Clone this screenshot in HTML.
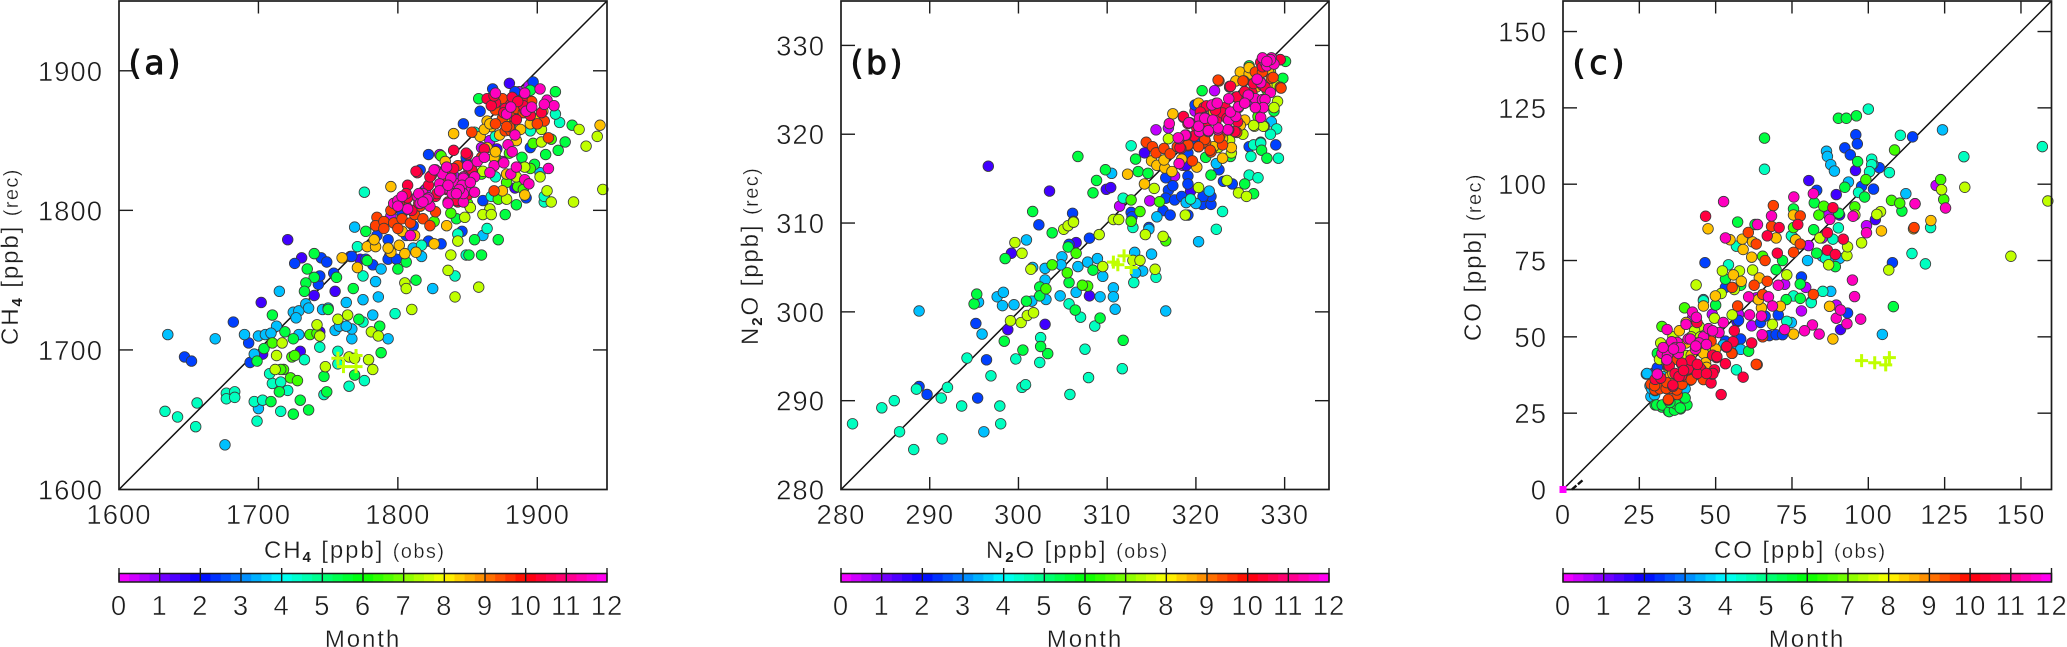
<!DOCTYPE html>
<html lang="en">
<head>
<meta charset="utf-8">
<title>Observed vs reconstructed CH4, N2O and CO</title>
<style>
html,body{margin:0;padding:0;background:#fff;}
svg{display:block;}
text{font-family:"Liberation Sans",sans-serif;fill:#1c1c1c;stroke:#fff;stroke-width:.5;paint-order:fill stroke;}
.title{font-size:24px;letter-spacing:1.9px;stroke-width:.3;}
.small{font-size:20px;letter-spacing:1.4px;}
.sub{font-size:15px;stroke:none;font-weight:bold;}
.tag{font-family:"DejaVu Sans",sans-serif;font-size:33px;stroke:#111;stroke-width:.9;fill:#111;}
</style>
</head>
<body>
<svg id="figure" width="2067" height="647" viewBox="0 0 2067 647" xmlns="http://www.w3.org/2000/svg">
<rect x="0" y="0" width="2067" height="647" fill="#fff"/>

<text class="title" x="264" y="558">CH<tspan class="sub" dy="4">4</tspan><tspan dy="-4"> [ppb] </tspan><tspan class="small">(obs)</tspan></text>
<text class="title" transform="translate(18,345) rotate(-90)">CH<tspan class="sub" dy="4">4</tspan><tspan dy="-4"> [ppb] </tspan><tspan class="small">(rec)</tspan></text>
<text class="title" x="363" y="647" text-anchor="middle">Month</text>

<text class="title" x="986" y="558">N<tspan class="sub" dy="4">2</tspan><tspan dy="-4">O [ppb] </tspan><tspan class="small">(obs)</tspan></text>
<text class="title" transform="translate(758,345) rotate(-90)">N<tspan class="sub" dy="4">2</tspan><tspan dy="-4">O [ppb] </tspan><tspan class="small">(rec)</tspan></text>
<text class="title" x="1085" y="647" text-anchor="middle">Month</text>

<text class="title" x="1714" y="558">CO [ppb] <tspan class="small">(obs)</tspan></text>
<text class="title" transform="translate(1481,341) rotate(-90)">CO [ppb] <tspan class="small">(rec)</tspan></text>
<text class="title" x="1807" y="647" text-anchor="middle">Month</text>
</svg>

<script>
/* ---------- tick labels ---------- */
const ch4Ticks = [1600,1700,1800,1900];
const n2oTicks = [280,290,300,310,320,330];
const coTicks = [0,25,50,75,100,125,150];
const monthTicks = [0,1,2,3,4,5,6,7,8,9,10,11,12];
const monthNames = ['jan','feb','mar','apr','may','jun','jul','aug','sep','oct','nov','dec'];
const monthValues = [0.5,1.5,2.5,3.5,4.5,5.5,6.5,7.5,8.5,9.5,10.5,11.5];

/* ---------- CH4 (observed / reconstructed, per month) ---------- */
const ch4ObsJan = [1830,1894,1887,1795,1794,1866,1880,1840,1860,1820,1805,1875];
const ch4RecJan = [1840,1889,1885,1796,1767,1850,1870,1825,1845,1815,1800,1835];
const ch4ObsFeb = [1721,1702,1731,1740,1755,1730,1703,1744,1766,1880,1884,1773,1849,1871];
const ch4RecFeb = [1779,1734,1766,1739,1742,1699,1697,1713,1767,1891,1816,1765,1835,1844];
const ch4ObsMar = [1647,1652,1682,1693,1694,1726,1745,1749,1743,1744,1754,1897,1868,1859,1847,1822,1861,1884,1793,1793,1799,1806,1822,1831,1846,1785,1782,1767,1777,1816,1849,1895,1803,1892,1811];
const ch4RecMar = [1695,1692,1720,1705,1691,1762,1766,1763,1747,1753,1755,1892,1887,1871,1862,1840,1807,1885,1779,1765,1765,1782,1778,1776,1785,1782,1761,1767,1765,1829,1838,1845,1798,1809,1789];
const ch4ObsApr = [1635,1669,1676,1690,1700,1705,1697,1700,1713,1709,1715,1725,1729,1727,1734,1736,1729,1746,1750,1755,1758,1763,1775,1784,1786,1782,1767,1767,1763,1793,1769,1788,1825,1861,1902,1881,1811,1817];
const ch4RecApr = [1711,1708,1632,1711,1710,1711,1697,1658,1717,1712,1742,1727,1728,1723,1733,1730,1711,1729,1730,1714,1717,1734,1736,1749,1738,1725,1708,1715,1717,1708,1788,1758,1744,1782,1827,1865,1773,1767];
const ch4ObsMay = [1633,1642,1655,1656,1677,1683,1677,1683,1697,1703,1699,1716,1710,1708,1721,1716,1733,1744,1747,1757,1757,1765,1776,1775,1798,1776,1771,1775,1841,1849,1864,1843,1916,1913,1895,1905,1905,1881,1870,1870,1867,1817,1855];
const ch4RecMay = [1656,1652,1645,1662,1669,1670,1665,1666,1663,1664,1649,1656,1676,1683,1671,1677,1693,1702,1668,1690,1699,1674,1678,1720,1726,1813,1774,1753,1753,1768,1787,1783,1863,1869,1857,1806,1810,1859,1853,1824,1810,1775,1856];
const ch4ObsJun = [1699,1704,1710,1719,1725,1709,1715,1725,1736,1730,1747,1749,1735,1740,1740,1734,1733,1756,1750,1768,1778,1777,1769,1772,1788,1787,1800,1806,1813,1851,1860,1855,1872,1877,1842,1858,1913,1895,1925,1920,1915,1906,1898,1889,1885];
const ch4RecJun = [1692,1701,1725,1713,1708,1663,1670,1654,1657,1664,1681,1670,1758,1769,1752,1748,1742,1752,1729,1744,1764,1785,1682,1722,1698,1717,1758,1763,1750,1768,1768,1779,1779,1797,1794,1880,1885,1886,1861,1849,1843,1840,1833,1838,1804];
const ch4ObsJul = [1710,1718,1723,1728,1716,1737,1742,1724,1726,1838,1831,1826,1872,1910,1897,1880,1886,1860,1870,1890,1895,1850,1878];
const ch4RecJul = [1705,1686,1680,1678,1686,1711,1712,1695,1696,1798,1839,1792,1808,1851,1848,1841,1817,1826,1838,1815,1830,1805,1820];
const ch4ObsAug = [1713,1712,1717,1742,1744,1748,1757,1764,1765,1769,1779,1782,1781,1786,1805,1806,1810,1838,1836,1841,1858,1926,1910,1907,1947,1930,1935,1943,1866,1861,1867,1852,1848,1878,1902,1903,1903,1891,1861,1843,1885];
const ch4RecAug = [1696,1686,1705,1718,1710,1688,1722,1725,1695,1694,1693,1686,1713,1710,1748,1744,1729,1768,1757,1738,1745,1806,1806,1814,1815,1858,1846,1853,1801,1797,1797,1802,1795,1808,1824,1849,1858,1831,1828,1778,1824];
const ch4ObsSep = [1760,1771,1778,1784,1783,1795,1793,1801,1805,1813,1803,1812,1826,1835,1795,1840,1864,1867,1873,1859,1888,1881,1875,1891,1945,1869,1878,1864,1904,1834,1862,1870,1866,1885,1895,1900];
const ch4RecSep = [1766,1759,1774,1774,1779,1770,1773,1775,1769,1770,1785,1782,1776,1789,1817,1855,1864,1860,1854,1853,1858,1865,1814,1811,1861,1838,1826,1845,1871,1835,1858,1842,1862,1850,1862,1866];
const ch4ObsOct = [1785,1784,1790,1790,1797,1803,1809,1812,1818,1823,1827,1843,1853,1869,1877,1908,1905,1870,1875,1883,1892,1875,1896,1881,1853,1801,1816,1795,1800,1806,1815,1833,1838,1860,1885,1880,1890,1900,1870,1878];
const ch4RecOct = [1795,1789,1792,1787,1791,1794,1791,1797,1794,1789,1799,1832,1856,1814,1857,1852,1864,1872,1880,1867,1876,1866,1878,1857,1829,1806,1803,1800,1787,1803,1808,1820,1825,1838,1873,1860,1870,1862,1862,1860];
const ch4ObsNov = [1840,1850,1814,1807,1807,1801,1824,1822,1827,1836,1843,1840,1851,1862,1866,1870,1881,1889,1891,1903,1885,1877,1813,1806,1823,1828,1842,1850,1853,1849,1864,1867,1882,1890,1876,1869,1895,1886,1810,1815,1835,1845];
const ch4RecNov = [1843,1840,1827,1818,1809,1806,1825,1818,1810,1806,1806,1830,1829,1844,1880,1877,1876,1879,1872,1870,1865,1873,1828,1812,1824,1812,1807,1811,1829,1841,1880,1875,1881,1875,1870,1882,1868,1878,1800,1805,1815,1815];
const ch4ObsDec = [1797,1800,1807,1809,1814,1818,1816,1822,1823,1827,1832,1835,1830,1835,1839,1836,1847,1847,1843,1849,1855,1855,1857,1850,1862,1869,1866,1876,1881,1885,1891,1894,1908,1879,1882,1884,1870,1878,1881,1891,1892,1896,1902,1907,1912,1905,1815,1821,1818,1826,1847,1846,1847,1838,1844,1803,1800,1830,1842,1852,1836];
const ch4RecDec = [1805,1807,1801,1782,1810,1812,1805,1809,1803,1829,1826,1831,1819,1816,1812,1805,1806,1824,1819,1814,1813,1824,1835,1832,1838,1832,1827,1834,1826,1831,1822,1819,1830,1847,1842,1854,1884,1869,1874,1884,1871,1874,1887,1879,1875,1876,1812,1808,1806,1829,1823,1818,1812,1823,1815,1810,1803,1814,1812,1820,1818];
const ch4MeanObs = [1757,1770,1761,1770];
const ch4MeanRec = [1694,1696,1688,1688];

/* ---------- N2O ---------- */
const n2oObsJan = [315.5,314.8,311.4,322.1,319.9,317.6,316.9,318.5,326.5,321];
const n2oRecJan = [320.5,312.5,311.9,324.9,322.6,315.3,320.7,316.5,323.5,319];
const n2oObsFeb = [296.6,303.5,309.9,310.4,306.5,299.2,298.8,303,308,314.2,318.9,319.4];
const n2oRecFeb = [316.4,313.6,313.8,314,307.8,306.6,298,298.6,301.8,317.9,316.5,313.6];
const n2oObsMar = [288.8,289.7,295.4,296.4,295.2,302.3,306.1,306.2,305.7,308,312.7,312.8,314.7,316.6,316.9,317.4,316.6,317.6,318.4,316.3,317.1,319.1,319.1,320.7,321.7,321.7,320.8,322.6,323.1,324.1,329,326,319.9,319.9,323.8,319.1,319.1];
const n2oRecMar = [291.6,290.7,290.3,294.6,298.7,309.8,311.1,310.2,307.6,308.3,311.2,310.7,309.5,315.1,313.7,314.2,312.8,312.6,313,311.4,310.9,315.3,314.4,312.1,312.1,313,313,316,314.7,314.4,318.8,318.6,323.3,319.1,325.3,317.9,310.9];
const n2oObsApr = [288.8,296.1,295.9,295.5,297.6,298.3,298.2,299.5,300.9,301.6,303,303,303.1,301.5,304.7,304.9,304.8,306.7,307.8,308.9,309.5,306.5,309.2,310.7,310.7,310.9,313.1,315,314,313.2,316.6,320.3,310.5,315.6,314.7,318.9,320,321.5,322.3,327.3,328.5];
const n2oRecApr = [300.1,286.5,297.5,301.1,301.7,302.2,300.7,300.8,308.1,305,304.9,303.6,301.4,301.2,301.8,306.2,305.3,305.1,305.6,306,304,302.2,301.7,302.7,301.7,300.3,306.7,306.5,304.6,304.4,300.1,307.9,315.6,310.7,309.3,312.3,312.2,313.6,316.7,319.1,321.4];
const n2oObsMay = [281.3,284.6,286,286.6,288.2,288.5,291.3,292,291.4,293.6,294.2,296.9,297.9,298,299.7,300.4,300.8,302.5,302.4,305.8,305.7,307,308.6,307.9,307.5,311.7,313,315.5,322.3,323,312.9,311.8,319.4,312.7,326,327,326.2,326.5,327.3,329.3,329.1,328.4];
const n2oRecMay = [287.4,289.2,290,286.5,284.5,291.3,290.3,291.5,285.7,289.4,294.8,292.8,289.4,287.4,294.7,291.5,291.8,297.1,294.3,290.7,300.9,299.4,298.4,292.6,295.8,293.6,303.3,303.9,309.3,311.3,309.5,312.8,312.7,318.7,315.4,315.1,317.5,318.8,319,317.3,320.6,320];
const n2oObsJun = [295,295.3,298.4,300.5,303.3,302.5,301.6,303.8,298.5,300.9,302.4,302.4,305.6,305.7,306.4,309.2,311.8,308.4,306.7,308.8,309.8,308.4,312.7,313.2,313.5,314.6,321.1,321.7,323.9,320.7,325.5,326.5,327.4,328,326,330.1,328.8,329.8];
const n2oRecJun = [300.9,302,296.7,295.7,295.3,296.1,311.3,308.9,306,301.2,302.8,301.8,307.3,303.3,300.2,299.3,296.8,304.7,317.5,314.8,316,313.4,310.2,317.2,315.8,315.6,317.4,315.4,317.5,324.9,314.4,313.3,318.2,317.3,327.7,328.2,322.6,326.3];
const n2oObsJul = [306.5,307.8,307.2,305.5,312.7,313.7,315.9,316.6,303.1,303.8,312.7,328,327];
const n2oRecJul = [306.6,302.9,303,304.4,312.6,311.3,312.4,308,302.6,305.3,310.2,325,322];
const n2oObsAug = [299.6,300.4,299.1,300.3,301,301.7,301.4,305.1,305.6,306.2,309.1,309.5,310.7,311.3,312.9,313.7,315.4,314.3,316.3,315.3,318.8,320.3,323.5,324.8,325.7,316.9,327.7,326.6,325.3,329.2,323.8,324,327.6,326.5,328.8,329,322.5,321,328.4,327.2];
const n2oRecAug = [307.8,306.6,299,298.8,299.6,299.9,304.8,309.3,309.7,310.1,308.7,305.1,310.4,310.4,305.8,305.8,304.8,308.7,308.5,313.9,310.9,314,314.8,313.4,313,319.5,320.9,320.9,320,323.7,319.3,317.9,320.9,321,323,325.5,318.5,320,327,326];
const n2oObsSep = [312.3,314.2,315,315.6,316.5,317.3,316.4,317.4,320.3,323,320.1,322,325,326,325.5,318.4,324,323,325,321,322,326.8,327,328,324.5,326,328.2,325.3];
const n2oRecSep = [315.5,314.4,317,316.5,316.2,315.8,317.1,322.3,323.5,317.3,316.3,318.6,327,326.8,321.6,317.2,318.5,319.5,321,319,322.5,325.3,323,325.5,326,327.5,327,324];
const n2oObsOct = [314.4,315.1,315.5,316.4,317.1,317.9,319.1,320.3,321.1,319.6,321.7,323,322.7,322.6,329.5,325.4,326.8,328.5,325.8,324.6,322.5,325.3,326.7,328.7,329.6,321,321.6,322.6,320.3,319.1,327.5,327.5,325.5];
const n2oRecOct = [319.1,318.6,317.9,318.4,317.8,318.6,318.7,318.6,319.1,317,318,318.8,319.8,326,325.3,326,327,326.3,324.2,320.2,326.1,326,327,326.4,325.2,319.4,318.2,319.6,318.6,318.8,327,325.5,323.5];
const n2oObsNov = [318.3,318.6,320.9,323.8,325.5,324.5,323.3,322.3,321.3,320.1,324.7,327.3,329.5,327.8,326.3,319.8,319.1,324.6,323.9,325.5,323,322.2,321.2,318.2,324.4,318.6,329.5,327.9,323.5,320.5,326.5,327.5,328.5];
const n2oRecNov = [318.4,321.9,323,325.4,324.8,324.2,323,321.6,321.4,320.7,321.4,328.1,328.4,325.3,324.7,319.8,321.2,324.2,325.4,324.8,322.4,322.7,323.2,318.5,320.3,322,328.4,328.2,321.8,322.5,325.7,327.6,328];
const n2oObsDec = [318.1,317,318.1,318.9,319.3,320.5,320.4,321.4,321,322.3,323.7,323.7,322.5,323.7,324.8,324.1,326,326.7,327.3,327.5,328.4,327.3,326.9,327.8,328.5,328,328.8,327.3,321.8,324.5,322.4,323.9,324.8,323.6,322.5,321.4,320.4,320.3,319.2,318.8,318,321,321.9,325.9,325.5,327.8,327.6,326.7,327.5,328.4,328];
const n2oRecDec = [316.7,321.2,319.5,319.9,321.3,321.8,320.3,320.3,321.9,323.5,324,321.6,320.5,320.5,323,322.5,324.4,324,322.8,323.9,324.7,325.8,326.2,328.1,328.6,327.7,327.9,321.9,323.3,322,323.5,322.5,323.1,320.5,320.7,320.4,321.8,320.9,321.3,319.9,319.6,321.8,321.6,324.4,323.5,323.9,323,323,328.6,328.4,328.2];
const n2oMeanObs = [310.7,311.9,312.7,311.2];
const n2oMeanRec = [305.6,306.3,305,305.3];

/* ---------- CO ---------- */
const coObsJan = [122.2,115.3,99.4,80.4,78.1,89.5,72.6,61.8,57.5,48.9,84.9,79.5,42.4,63.3,87];
const coRecJan = [99.6,93.6,86.4,79.9,58.5,60.4,67.2,53.6,57.4,57.4,82.4,66.2,56.1,62.8,89.9];
const coObsFeb = [80.5,95.8,89.5,90.9,102.3,90.6,30.2,47,57];
const coRecFeb = [101.2,104.5,96.6,52.4,88.4,89.9,38.5,50,55];
const coObsMar = [46.5,95.9,96.4,92.3,94.1,114.5,103.6,101.7,97.8,107.9,83.1,78.1,93.2,53.2,57.5,67.6,69.8,71.9,64.7,70.5,66.2,48.9,46.7,53.2,58.2,28.8,30.9,42.4,43.9];
const coRecMar = [74.3,116.2,113.2,111.9,109.6,115.5,105.4,98.4,99.3,74.3,98,69.6,57.8,66.2,55.4,50.4,50.7,50.7,54.7,57.2,56.8,45.9,46.6,48.6,49.3,37.8,39.9,37.2,39.2];
const coObsApr = [27.3,28.8,29.5,41.7,45.3,52.5,56.1,58.2,86.3,86.6,87.7,88.9,93.5,101.5,112.3,124.3,104.6,80.1,87.7,74.8,46,84.9,87,90.6,81.3,75.5,27.5,28.5,30,29,33,40];
const coRecApr = [37.8,30.4,35.1,35.8,37.2,47.3,46.6,45.9,110.8,109.1,106.4,104.3,100.7,106.6,96.9,117.8,50.8,75,64.9,54.7,62.2,76.4,75.7,75.7,61.5,82.4,38,34,31,33,37,33];
const coObsMay = [100,110.5,101.1,101.1,100.4,106.9,96.8,66,131.3,157,114.3,118.7,120.4,85.1,54.2,56.8,75.5,81.3,73.3,56.8,90.2,88.4,46,86,74.8];
const coRecMay = [124.6,116,108.2,106.4,104.1,103.8,97.3,104.9,109,112.3,77.3,73.9,85.8,64.9,73.6,79.7,63.4,61.2,55.1,39.2,85.7,82,61.8,75.7,83.1];
const coObsJun = [90.2,92.8,96.1,66,96.5,92.3,98.8,111,57.2,62.9,75.5,82.3,82.1,83.1,89.2,50,53.2,58.2,69.8,71.9,73.1,77.7,77.7,60.8,30.2,32.4,34.5,38.5,40.6,35.7,30.9,33.1,108.2,90.3,30.7,32.5,34.8,36.5,37,38.4,40,35];
const coRecJun = [121.6,121.6,122.4,115.1,107.4,99,95.8,91.2,87.6,86.8,91.9,93.9,85.1,77.4,73,60.4,68.9,66.9,72,75,62.2,62.6,67.3,45.3,27.7,27,25.7,26.4,27.7,26.4,44.6,45.9,59.9,90.5,27.7,27.7,25.5,26,28,26.7,30,28.5];
const coObsJul = [108.6,99.2,107.6,110.3,124.7,123.7,83.8,85.4,75.5,32.4,39.8,65.4,95.6];
const coRecJul = [111.2,101.5,94.7,93.8,95,101.5,89.9,92.8,85.8,53.4,59.5,76.4,92.6];
const coObsAug = [43.6,52.2,62.1,57.8,49.6,55.4,68.6,73.3,87,106.7,124,131.6,158.8,146.7,104,102.8,97.8,93,93.2,84.1,95.6,56.1,44.6,31.6,34.5,40.3,43.1,51.8,32,36,38,42,45,48,36];
const coRecAug = [67,71.6,71.9,71.6,56.1,57.2,54.1,70.3,73.6,71.9,98.2,99,94.5,76.4,91,90.1,80.8,76.6,79.5,82.4,89.9,65.5,53.4,42.6,39.9,43.9,52,64.2,48,50,46,50,50,47,44];
const coObsSep = [47.5,54.7,58.7,59,61.8,62.1,55.8,58.4,64.3,49.9,46,71.2,65,64,87.3,88.4,75.5,104.3,114.8,120.5,75.5,76.2,69.8,38.1,40.3,46,46.7,35.2,38.8,40.3,36,38,40,42,44,47,50,34,37,42];
const coRecSep = [85.4,81.8,82,78.6,76.1,81.1,70.3,68.2,69.3,63.4,60.1,60,59.5,62.2,60,49.3,50.9,84.7,85.4,88.1,89.9,81.8,82.4,52,54.7,44.6,41.5,37.2,41.2,48,38,36,40,44,48,40,46,42,46,38];
const coObsOct = [68.9,77.7,77.7,75.5,60.7,63.3,68.3,66.2,55.4,62.6,66.9,82,57.2,65.4,65.4,63.6,55.4,48.5,45.3,43.1,38.8,37.4,34.5,33.8,30.2,28.8,31.6,35.2,115,37.4,34.5,30.1,31.7,33.8,37.3,39,30,55.3,63.3,46,34,40,42];
const coRecOct = [93,89.6,80.4,77.7,84.2,80.4,86.2,75,66.2,66.9,68.2,63.9,60.1,63.9,50,40.9,44.6,48.6,39.2,37.8,34.5,31.1,29.3,33.1,32.4,34.5,33.8,33.1,85.8,42.6,29.5,32.6,33,33.1,32.6,34.5,34,44.6,41,36,35,37,36];
const coObsNov = [46.7,70.8,66.9,76.9,70.2,88.4,86.6,91.8,86.6,89.2,51.8,59,48.5,61.8,56.1,55.7,53.6,53.2,50.3,49.6,41,42,43.9,38.8,36,34.5,30.2,48.9,32,34.8,36.7,38,41,41.8,44.9,44,38.9,36,49,50.4,49.1,53.6,47,44,39.5];
const coRecNov = [89.5,85.8,83.1,86.8,77.4,92.3,84.1,82,78.4,77,31.1,36.8,34.9,48,52,48.4,46.6,41.2,43.2,39.2,39.2,42.3,54.7,37.2,33.8,40.5,36.1,37.8,36.5,40.5,38,37,39.5,42.4,39.7,38,41.4,34.2,44,43.5,38,46.8,38,41,39];
const coObsDec = [52.6,53.2,63.7,68.3,75.6,82,87.4,95,99.4,115.3,125.3,94.8,95.5,97.5,93,89.5,90.9,83.9,81.7,79.1,72.6,65.2,70.5,67.3,60.8,68.6,61.1,65,42.4,43.7,34.1,40.3,41,46,47.7,51.1,52.5,43.4,37.4,34.5,33.1,37.8,35.2,30.9,32.4,34.2,41.7,44.6,35.6,36.8,38.4,32.8,34,36.2,43.5,47,49];
const coRecDec = [94.3,82.4,86.8,89.6,95.8,96.9,88.5,89.5,84.1,93.6,92.2,68.6,63.2,55.8,54.3,56.1,58.8,50.9,53.9,52,52.4,50.7,66.9,63.1,63.1,60.1,57.2,56.8,58.1,56.4,52.4,54.1,49.3,50,52.7,51.4,54.7,45.9,48.2,45.3,45.3,44.6,47.3,37.8,44.6,43.9,49.3,48,48.4,46.5,46.5,46.5,42.5,46,47,47.5,52];
const coMeanObs = [97.8,102.1,105.7,106.9];
const coMeanRec = [42.2,41.5,40.8,43.2];

/* ---------- drawing ---------- */
const SVGNS = 'http://www.w3.org/2000/svg';
const figure = document.getElementById('figure');
const INK = '#1c1c1c';
const TOP = 1, BOTTOM = 489.5;
const BAR_TOP = 574, BAR_BOTTOM = 581.5, BAR_TICK_TOP = 568;
const colorStops = ['#ff00ff','#8000ff','#0000ff','#0080ff','#00ffff','#00ff80','#00ff00','#80ff00','#ffff00','#ff8000','#ff0000','#ff0080','#ff00ff'];

function hexToRgb(h){
  return [parseInt(h.slice(1,3),16),parseInt(h.slice(3,5),16),parseInt(h.slice(5,7),16)];
}
function monthColor(m){
  const i = Math.min(11,Math.floor(m));
  const t = m - i;
  const a = hexToRgb(colorStops[i]);
  const b = hexToRgb(colorStops[i+1]);
  return 'rgb(' + a.map((v,k)=>Math.round(v+(b[k]-v)*t)).join(',') + ')';
}
function make(tag, attrs){
  const el = document.createElementNS(SVGNS, tag);
  Object.keys(attrs).forEach(k => el.setAttribute(k, attrs[k]));
  figure.appendChild(el);
  return el;
}
function drawLine(x1,y1,x2,y2,width,name,color){
  const el = make('line',{x1:x1,y1:y1,x2:x2,y2:y2,stroke:color||INK,'stroke-width':width});
  
  
  return el;
}
function drawLabel(x,y,str,anchor,name){
  const el = make('text',{x:x,y:y,'text-anchor':anchor,'font-size':27.5,'letter-spacing':'1px'});
  el.textContent = str;
  
  
  return el;
}

function drawPanel(p){
  const xOf = v => p.x0 + (v - p.min) / (p.max - p.min) * (p.x1 - p.x0);
  const yOf = v => BOTTOM - (v - p.min) / (p.max - p.min) * (BOTTOM - TOP);

  const diag = drawLine(xOf(p.min), yOf(p.min), xOf(p.max), yOf(p.max), 1.5, p.key + '-one-to-one-line', '#111');

  p.obs.forEach((obsList, mi) => {
    const recList = p.rec[mi];
    const color = monthColor(monthValues[mi]);
    obsList.forEach((v, i) => {
      const c = make('circle',{cx:xOf(v),cy:yOf(recList[i]),r:5.3,fill:color,stroke:'#3a3a3a','stroke-width':0.8});
      
      
    });
  });

  p.meanObs.forEach((v, i) => {
    const cx = xOf(v), cy = yOf(p.meanRec[i]);
    const m = make('path',{d:'M'+(cx-6.5)+' '+cy+'H'+(cx+6.5)+'M'+cx+' '+(cy-6.5)+'V'+(cy+6.5),stroke:monthColor(7.5),'stroke-width':3,fill:'none'});
    
    
  });

  const box = make('rect',{x:p.x0,y:TOP,width:p.x1-p.x0,height:BOTTOM-TOP,fill:'none',stroke:INK,'stroke-width':1.7});
  
  

  p.ticks.forEach(t => {
    const x = xOf(t), y = yOf(t);
    if (t !== p.min) {
      drawLine(x, BOTTOM, x, BOTTOM-12.5, 1.4, p.key + '-x-tick');
      drawLine(x, TOP, x, TOP+12.5, 1.4, p.key + '-x-tick-top');
      drawLine(p.x0, y, p.x0+14, y, 1.4, p.key + '-y-tick');
      drawLine(p.x1, y, p.x1-14, y, 1.4, p.key + '-y-tick-right');
    }
    drawLabel(x, 524, String(t), 'middle', p.key + '-x-tick-label');
    drawLabel(p.x0-16, y+10, String(t), 'end', p.key + '-y-tick-label');
  });

  /* colour bar */
  const w = (p.x1 - p.x0) / 12;
  const STEPS = 4;
  for (let m = 0; m < 12; m++) {
    for (let s = 0; s < STEPS; s++) {
      const seg = make('rect',{x:p.x0+(m+s/STEPS)*w,y:BAR_TOP,width:w/STEPS+0.4,height:BAR_BOTTOM-BAR_TOP,fill:monthColor(m+(s+0.5)/STEPS)});
      
      
    }
  }
  const frame = make('rect',{x:p.x0,y:BAR_TOP-0.5,width:p.x1-p.x0,height:BAR_BOTTOM-BAR_TOP+1,fill:'none',stroke:INK,'stroke-width':1.5});
  
  
  monthTicks.forEach(t => {
    const x = p.x0 + t * w;
    drawLine(x, BAR_TICK_TOP, x, BAR_BOTTOM, 1.4, p.key + '-colorbar-tick');
    drawLabel(x, 615, String(t), 'middle', p.key + '-colorbar-tick-label');
  });

  const tag = make('text',{x:p.x0+9.5,y:74,'class':'tag',textLength:52});
  tag.textContent = p.tag;
  
  
  return {xOf, yOf, diag};
}

drawPanel({
  key:'panel-a', tag:'(a)', x0:119, x1:607, min:1600, max:1950, ticks:ch4Ticks,
  obs:[ch4ObsJan,ch4ObsFeb,ch4ObsMar,ch4ObsApr,ch4ObsMay,ch4ObsJun,ch4ObsJul,ch4ObsAug,ch4ObsSep,ch4ObsOct,ch4ObsNov,ch4ObsDec],
  rec:[ch4RecJan,ch4RecFeb,ch4RecMar,ch4RecApr,ch4RecMay,ch4RecJun,ch4RecJul,ch4RecAug,ch4RecSep,ch4RecOct,ch4RecNov,ch4RecDec],
  meanObs:ch4MeanObs, meanRec:ch4MeanRec
});
drawPanel({
  key:'panel-b', tag:'(b)', x0:841, x1:1329, min:280, max:335, ticks:n2oTicks,
  obs:[n2oObsJan,n2oObsFeb,n2oObsMar,n2oObsApr,n2oObsMay,n2oObsJun,n2oObsJul,n2oObsAug,n2oObsSep,n2oObsOct,n2oObsNov,n2oObsDec],
  rec:[n2oRecJan,n2oRecFeb,n2oRecMar,n2oRecApr,n2oRecMay,n2oRecJun,n2oRecJul,n2oRecAug,n2oRecSep,n2oRecOct,n2oRecNov,n2oRecDec],
  meanObs:n2oMeanObs, meanRec:n2oMeanRec
});
const panelC = drawPanel({
  key:'panel-c', tag:'(c)', x0:1563, x1:2051.5, min:0, max:160, ticks:coTicks,
  obs:[coObsJan,coObsFeb,coObsMar,coObsApr,coObsMay,coObsJun,coObsJul,coObsAug,coObsSep,coObsOct,coObsNov,coObsDec],
  rec:[coRecJan,coRecFeb,coRecMar,coRecApr,coRecMay,coRecJun,coRecJul,coRecAug,coRecSep,coRecOct,coRecNov,coRecDec],
  meanObs:coMeanObs, meanRec:coMeanRec
});

/* origin marker and short dashed segment in panel (c) */
const originMark = make('rect',{x:panelC.xOf(0)-3.5,y:panelC.yOf(0)-3.5,width:7,height:7,fill:'#ff00ff'});


const dashSeg = make('line',{x1:panelC.xOf(2.9),y1:panelC.yOf(0),x2:panelC.xOf(6.5),y2:panelC.yOf(3.1),stroke:'#111','stroke-width':2.4,'stroke-dasharray':'6 2'});


</script>
</body>
</html>
